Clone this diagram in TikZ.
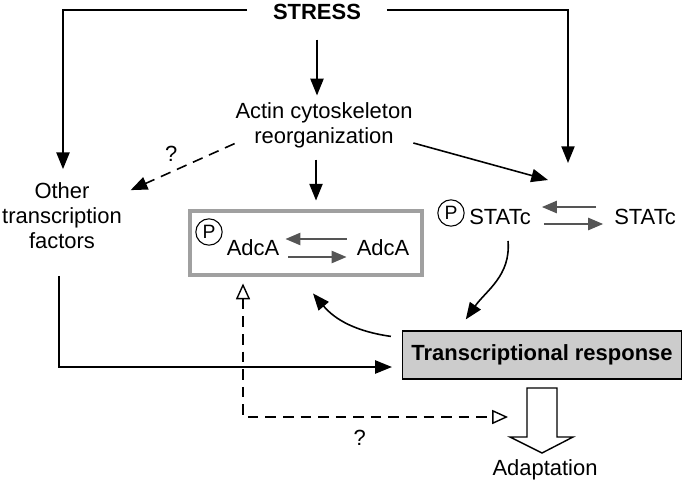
\documentclass[tikz,border=0pt]{standalone}
\usepackage{fontspec}
\setmainfont{Liberation Sans}
\usetikzlibrary{arrows.meta,calc,positioning}
\definecolor{boxgray}{RGB}{160,160,160}
\definecolor{eqgray}{RGB}{85,85,85}
\definecolor{respgray}{RGB}{204,204,204}
\tikzset{
  arr/.style={-{Triangle[length=9.5pt,width=7.5pt]}, line width=0.9pt},
  eqarr/.style={-{Triangle[length=8.5pt,width=7pt]}, line width=0.9pt, eqgray},
  qarr/.style={arr, dash pattern=on 6pt off 4pt},
  openarr/.style={{Triangle[open,length=9pt,width=8pt]}-{Triangle[open,length=9pt,width=8pt]}, line width=0.8pt, dash pattern=on 6pt off 4pt},
  phos/.style={circle, draw, line width=0.6pt, inner sep=0pt, minimum size=15pt, font=\fontsize{11}{12}\selectfont},
  lbl/.style={inner sep=2pt, align=center},
}

\begin{document}
\begin{tikzpicture}[x=0.02cm, y=-0.02cm, font=\fontsize{12.5}{14.2}\selectfont]
\useasboundingbox (0,0) rectangle (685,483);

% upper part
\node[lbl, font=\fontsize{12.5}{14.2}\selectfont\bfseries] (stress) at (317,12) {STRESS};
\node[lbl] (actin) at (324,125) {Actin cytoskeleton\\reorganization};
\node[lbl] (other) at (62,216) {Other\\transcription\\factors};

% AdcA
\node[draw=boxgray, line width=2.8pt, minimum width=4.64cm, minimum height=1.28cm] (adcbox) at (306,243) {};
\node[phos] (padc) at (209,232) {P};
\node (adcp) at (253,248) {AdcA};
\node (adc) at (383,248) {AdcA};
\draw[eqarr] ($(adc.west)+(-4,-9)$) -- ($(adcp.east)+(0,-9)$);
\draw[eqarr] ($(adcp.east)+(3,9)$) -- ($(adc.west)+(-4,9)$);

% STATc
\node[phos] (pstat) at (451,213) {P};
\node (statp) at (500,217) {STATc};
\node (stat) at (645,217) {STATc};
\draw[eqarr] ($(stat.west)+(-12,-10)$) -- ($(statp.east)+(5,-10)$);
\draw[eqarr] ($(statp.east)+(7,7)$) -- ($(stat.west)+(-5,7)$);

% response
\node[draw, fill=respgray, line width=0.7pt, minimum width=5.58cm, minimum height=0.96cm, font=\fontsize{12.5}{14.2}\selectfont\bfseries] (resp) at (542,355) {Transcriptional response};
\node (adapt) at (545,470) {Adaptation};

\coordinate (statin) at (548,180);
\coordinate (stattop) at (568,163);
\coordinate (blk) at (542,388);
\coordinate (qend) at (508,417);

% connectors
\draw[arr] ($(stress.west)+(-22,-2)$) -| ($(other.north)+(1,-10)$);
\draw[arr] ($(stress.east)+(22,-2)$) -| (stattop);
\draw[arr] ($(stress.south)+(0,16)$) -- ($(stress.south |- actin.north)+(0,-3)$);
\draw[arr] ($(actin.south)+(-8,8)$) -- ($(actin.south |- adcbox.north)+(-8,-8)$);
\draw[qarr] ($(actin.south west)+(3,-8)$) -- ($(other.north east)+(5,11)$) node[midway, above left=-1pt] {?};
\draw[arr] ($(actin.east)+(-3,18)$) -- (statin);
\draw[arr] ($(statp.south)+(8,10)$) to[out=-85,in=55] ($(resp.north west)!0.228!(resp.north east)+(0,-11)$);
\draw[arr] ($(resp.north west)+(-11,6)$) to[out=172,in=-50] ($(adcbox.south)+(7,16)$);
\draw[arr] ($(other.south)+(-3,23)$) |- ($(resp.west)+(-10,12)$);
\draw[openarr] ($(adcbox.south)+(-63,6)$) |- (qend) node[pos=0.72, below=4pt] {?};

% block arrow
\draw[line width=0.8pt, fill=white] ($(blk)+(-15,0)$) -- ($(blk)+(-15,49)$) -- ($(blk)+(-32,49)$)
  -- ($(blk)+(0,65)$) -- ($(blk)+(31,49)$) -- ($(blk)+(15,49)$) -- ($(blk)+(15,0)$) -- cycle;
\end{tikzpicture}
\end{document}
